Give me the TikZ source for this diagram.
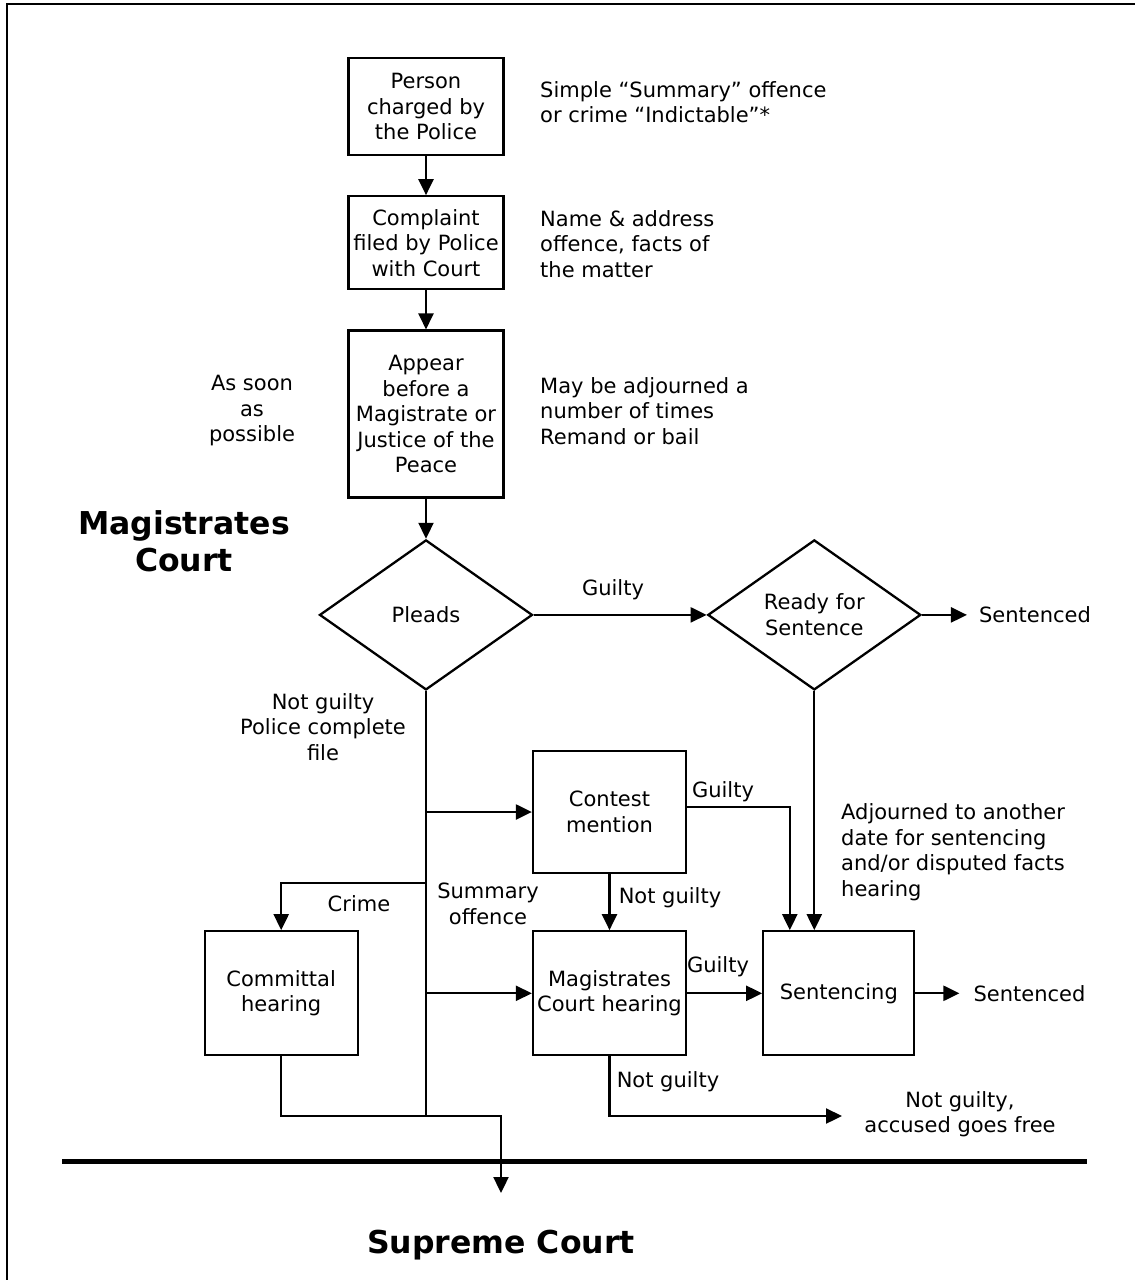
\documentclass[tikz,border=0pt]{standalone}
\usepackage{fontspec}
\setmainfont{DejaVu Sans}
\usepackage{tikz}
\usetikzlibrary{positioning,shapes.geometric,arrows.meta}
\newcommand{\normaltext}{\fontsize{21}{25.5}\selectfont}
\newcommand{\courttext}{\fontsize{31.5}{37}\selectfont\bfseries}
\tikzstyle{stage}=[rectangle,fill=white,draw=black,line width=2.3pt,minimum width=155pt,inner sep=1pt,align=center,font=\normaltext]
\tikzstyle{decision}=[diamond,aspect=1.42,fill=white,draw=black,line width=2.3pt,minimum width=213pt,minimum height=150pt,inner sep=0pt,align=center,font=\normaltext]
\tikzstyle{note}=[inner sep=0pt,align=left,anchor=west,font=\normaltext]
\tikzstyle{remark}=[inner sep=0pt,align=center,font=\normaltext]
\tikzstyle{court}=[inner sep=0pt,align=center,font=\courttext]
\tikzstyle{myline}=[line width=2.3pt]
\tikzstyle{mypath}=[line width=2.3pt,-{Triangle[length=16pt,width=15pt]}]
\def\rowgap{39pt}
\def\sidegap{173pt}

\begin{document}
\begin{tikzpicture}[x=1pt,y=-1pt]
		\useasboundingbox (0,0) rectangle (1135,1280);
		\draw[line width=2.5pt] (7,1290) -- (7,4) -- (1140,4);

		% police and first hearing
		\node[stage,minimum height=97pt] (person) at (426,106.5) {Person\\charged by\\the Police};
		\node[stage,minimum height=93pt,below=\rowgap of person] (complaint) {Complaint\\filed by Police\\with Court};
		\node[stage,minimum height=167pt,below=\rowgap of complaint] (appear) {Appear\\before a\\Magistrate or\\Justice of the\\Peace};
		\node[decision,below=40pt of appear] (pleads) {Pleads};
		\node[decision,right=\sidegap of pleads] (ready) {Ready for\\Sentence};

		% hearings
		\node[stage,minimum width=153pt,minimum height=122pt] (contest) at (609.5,812) {Contest\\mention};
		\node[stage,minimum width=153pt,minimum height=124pt,below=56pt of contest] (maghear) {Magistrates\\Court hearing};
		\node[stage,minimum width=153pt,minimum height=124pt,left=\sidegap of maghear] (committal) {Committal\\hearing};
		\node[stage,minimum width=151pt,minimum height=124pt,right=75pt of maghear] (sentencing) {Sentencing};

		% notes
		\node[note] (noteA) at (540,102) {Simple “Summary” offence\\or crime “Indictable”*};
		\node[note] (noteB) at (540,244) {Name \& address\\offence, facts of\\the matter};
		\node[note] (noteC) at (540,411) {May be adjourned a\\number of times\\Remand or bail};
		\node[remark] (asap) at (252,411) {As soon\\as\\possible};
		\node[court] (magcourt) at (184,541) {Magistrates\\Court};
		\node[remark] (guiltyA) at (613,590) {Guilty};
		\node[remark] (notguiltyA) at (323,727) {Not guilty\\Police complete\\file};
		\node[remark] (guiltyB) at (723,792) {Guilty};
		\node[note] (adjourned) at (841,852) {Adjourned to another\\date for sentencing\\and/or disputed facts\\hearing};
		\node[remark] (notguiltyB) at (670,898) {Not guilty};
		\node[remark] (crime) at (359,904) {Crime};
		\node[remark] (summary) at (488,904) {Summary\\offence};
		\node[remark] (guiltyC) at (718,967) {Guilty};
		\node[remark] (notguiltyC) at (668,1082) {Not guilty};
		\node[remark] (free) at (960,1114) {Not guilty,\\accused goes free};
		\node[court] (supreme) at (501,1245) {Supreme Court};

		% free ends
		\coordinate[right=45pt of ready.east] (sentA);
		\coordinate[right=44pt of sentencing.east] (sentB);
		\node[note,right=12pt of sentA] (sentencedA) {Sentenced};
		\node[note,right=14pt of sentB] (sentencedB) {Sentenced};
		\coordinate (crimeturn) at (426,883);
		\coordinate (mainend) at (426,1116);
		\coordinate (freetip) at (842,1116);
		\coordinate (supremetip) at (501,1193);
		\coordinate (divL) at (62,1161);
		\coordinate (divR) at (1087,1161);

		% Connections
		\draw[mypath] (person) -- (complaint);
		\draw[mypath] (complaint) -- (appear);
		\draw[mypath] (appear) -- (pleads);
		\draw[mypath] (pleads.east) -- (ready.west);
		\draw[mypath] (ready.east) -- (sentA);
		\draw[myline] (pleads.south) -- (mainend);
		\draw[mypath] (pleads.south |- contest.west) -- (contest.west);
		\draw[mypath] (crimeturn) -| (committal.north);
		\draw[mypath] (pleads.south |- maghear.west) -- (maghear.west);
		\draw[mypath] ([yshift=5pt]contest.east) -| ([xshift=-49pt]sentencing.north);
		\draw[mypath] (ready.south) -- (ready.south |- sentencing.north);
		\draw[mypath] (contest.south) -- (maghear.north);
		\draw[mypath] (maghear.east) -- (sentencing.west);
		\draw[mypath] (sentencing.east) -- (sentB);
		\draw[mypath] (maghear.south) |- (freetip);
		\draw[line width=5pt] (divL) -- (divR);
		\draw[mypath] (committal.south) |- (supremetip |- mainend) -- (supremetip);
	\end{tikzpicture}
\end{document}
